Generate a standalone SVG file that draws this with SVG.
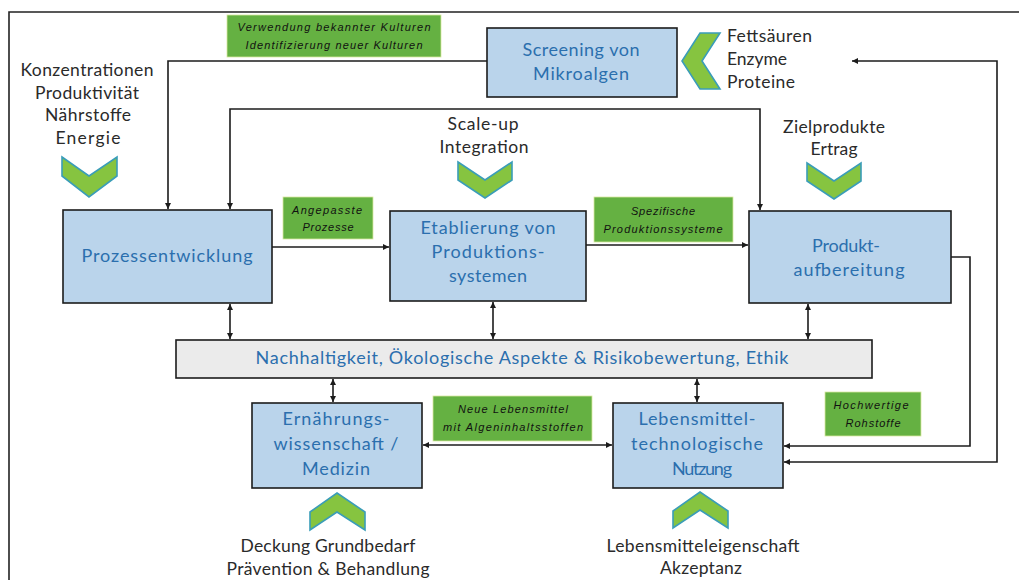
<svg xmlns="http://www.w3.org/2000/svg" width="1019" height="580" viewBox="0 0 1019 580">
<style>
.bg{fill:#ffffff}
.frame{fill:none;stroke:#222;stroke-width:1.6}
.box{fill:#bad4eb;stroke:#1c1c1c;stroke-width:1.6}
.bar{fill:#ebebeb;stroke:#1c1c1c;stroke-width:1.6}
.tag{fill:#65b142;stroke:#d9e8a0;stroke-width:0.8}
.chev{fill:#86c440;stroke:#3a9db8;stroke-width:1.6}
.conn{fill:none;stroke:#1c1c1c;stroke-width:1.6}
.bt{font-family:Lato,"Open Sans","Liberation Sans",sans-serif;font-size:18px;fill:#2b6fae;text-anchor:middle}
.lt{font-family:Lato,"Open Sans","Liberation Sans",sans-serif;font-size:17.5px;fill:#2a2a2a;text-anchor:middle}
.tt{font-family:"Liberation Sans",Arial,sans-serif;font-style:italic;font-size:11px;fill:#111;text-anchor:middle}
</style>
<defs>
<marker id="ah" viewBox="0 0 6 6" refX="6" refY="3" markerWidth="6" markerHeight="6" markerUnits="userSpaceOnUse" orient="auto-start-reverse">
<path d="M0,0 L6,3 L0,6 z" fill="#1c1c1c"/>
</marker>
</defs>
<rect class="bg" x="0" y="0" width="1019" height="580"/>
<path class="frame" d="M9,580 V12 H1019"/>

<g id="connectors">
<path class="conn" d="M487,61 H168 V209" marker-end="url(#ah)"/>
<path class="conn" d="M230,209 V109 H760 V210" marker-start="url(#ah)" marker-end="url(#ah)"/>
<path class="conn" d="M272,247 H389" marker-end="url(#ah)"/>
<path class="conn" d="M586,245 H748" marker-end="url(#ah)"/>
<path class="conn" d="M230,304 V339" marker-start="url(#ah)" marker-end="url(#ah)"/>
<path class="conn" d="M493,302 V339" marker-start="url(#ah)" marker-end="url(#ah)"/>
<path class="conn" d="M808,304 V339" marker-start="url(#ah)" marker-end="url(#ah)"/>
<path class="conn" d="M333,379 V402" marker-start="url(#ah)" marker-end="url(#ah)"/>
<path class="conn" d="M697,379 V402" marker-start="url(#ah)" marker-end="url(#ah)"/>
<path class="conn" d="M423,445 H612" marker-start="url(#ah)" marker-end="url(#ah)"/>
<path class="conn" d="M951,257 H970 V446 H784" marker-end="url(#ah)"/>
<path class="conn" d="M784,462 H997 V61 H852" marker-start="url(#ah)" marker-end="url(#ah)"/>
</g>

<g id="tag-screening">
<rect class="tag" x="227" y="15" width="214" height="42"/>
<text class="tt" x="334" y="31" textLength="193" lengthAdjust="spacing">Verwendung bekannter Kulturen</text>
<text class="tt" x="334" y="49" textLength="177" lengthAdjust="spacing">Identifizierung neuer Kulturen</text>
</g>

<g id="screening">
<rect class="box" x="487" y="28" width="190" height="69"/>
<text class="bt" x="581" y="56" textLength="117" lengthAdjust="spacing">Screening von</text>
<text class="bt" x="581" y="80" textLength="96" lengthAdjust="spacing">Mikroalgen</text>
</g>

<g id="chev-screening">
<path class="chev" d="M700,33 H720 L702,61 L720,89 H700 L682,61 z"/>
<text class="lt" style="text-anchor:start" x="727" y="42" textLength="85" lengthAdjust="spacing">Fettsäuren</text>
<text class="lt" style="text-anchor:start" x="727" y="65" textLength="60" lengthAdjust="spacing">Enzyme</text>
<text class="lt" style="text-anchor:start" x="727" y="88" textLength="68" lengthAdjust="spacing">Proteine</text>
</g>

<g id="input-left">
<text class="lt" x="87" y="76" textLength="133" lengthAdjust="spacing">Konzentrationen</text>
<text class="lt" x="87" y="99" textLength="104" lengthAdjust="spacing">Produktivität</text>
<text class="lt" x="88" y="121" textLength="86" lengthAdjust="spacing">Nährstoffe</text>
<text class="lt" x="88" y="144" textLength="65" lengthAdjust="spacing">Energie</text>
<path class="chev" d="M62,157 L89,176 L117,157 V176 L89,197 L62,176 z"/>
</g>

<g id="input-scaleup">
<text class="lt" x="483" y="130" textLength="71" lengthAdjust="spacing">Scale-up</text>
<text class="lt" x="484" y="153" textLength="89" lengthAdjust="spacing">Integration</text>
<path class="chev" d="M458,162 L485,180 L512,162 V180 L485,198 L458,180 z"/>
</g>

<g id="input-ziel">
<text class="lt" x="834" y="133" textLength="102" lengthAdjust="spacing">Zielprodukte</text>
<text class="lt" x="834" y="155" textLength="47" lengthAdjust="spacing">Ertrag</text>
<path class="chev" d="M807,163 L834,181 L861,163 V181 L834,199 L807,181 z"/>
</g>

<g id="prozess">
<rect class="box" x="63" y="210" width="209" height="93"/>
<text class="bt" x="167" y="262" textLength="171" lengthAdjust="spacing">Prozessentwicklung</text>
</g>

<g id="tag-angepasst">
<rect class="tag" x="283" y="197" width="90" height="42"/>
<text class="tt" x="327" y="214" textLength="70" lengthAdjust="spacing">Angepasste</text>
<text class="tt" x="328" y="231" textLength="51" lengthAdjust="spacing">Prozesse</text>
</g>

<g id="etablierung">
<rect class="box" x="390" y="211" width="196" height="90"/>
<text class="bt" x="488" y="234" textLength="135" lengthAdjust="spacing">Etablierung von</text>
<text class="bt" x="488" y="258" textLength="113" lengthAdjust="spacing">Produktions-</text>
<text class="bt" x="488" y="282" textLength="78" lengthAdjust="spacing">systemen</text>
</g>

<g id="tag-spezifisch">
<rect class="tag" x="594" y="197" width="139" height="45"/>
<text class="tt" x="663" y="215" textLength="64" lengthAdjust="spacing">Spezifische</text>
<text class="tt" x="663" y="233" textLength="119" lengthAdjust="spacing">Produktionssysteme</text>
</g>

<g id="produkt">
<rect class="box" x="749" y="211" width="202" height="92"/>
<text class="bt" x="846" y="252" textLength="68" lengthAdjust="spacing">Produkt-</text>
<text class="bt" x="849" y="276" textLength="111" lengthAdjust="spacing">aufbereitung</text>
</g>

<g id="nachhaltigkeit">
<rect class="bar" x="176" y="340" width="696" height="38"/>
<text class="bt" x="522" y="364" textLength="533" lengthAdjust="spacing">Nachhaltigkeit, Ökologische Aspekte &amp; Risikobewertung, Ethik</text>
</g>

<g id="ernaehrung">
<rect class="box" x="252" y="403" width="170" height="85"/>
<text class="bt" x="336" y="425" textLength="107" lengthAdjust="spacing">Ernährungs-</text>
<text class="bt" x="336" y="450" textLength="125" lengthAdjust="spacing">wissenschaft /</text>
<text class="bt" x="336" y="475" textLength="68" lengthAdjust="spacing">Medizin</text>
</g>

<g id="tag-neue">
<rect class="tag" x="433" y="396" width="159" height="45"/>
<text class="tt" x="513" y="413" textLength="110" lengthAdjust="spacing">Neue Lebensmittel</text>
<text class="tt" x="513" y="431" textLength="140" lengthAdjust="spacing">mit Algeninhaltsstoffen</text>
</g>

<g id="lebensmittel">
<rect class="box" x="613" y="403" width="170" height="85"/>
<text class="bt" x="697" y="425" textLength="117" lengthAdjust="spacing">Lebensmittel-</text>
<text class="bt" x="697" y="450" textLength="132" lengthAdjust="spacing">technologische</text>
<text class="bt" x="702" y="475" textLength="60" lengthAdjust="spacing">Nutzung</text>
</g>

<g id="tag-hochwertig">
<rect class="tag" x="825" y="392" width="96" height="44"/>
<text class="tt" x="871" y="409" textLength="75" lengthAdjust="spacing">Hochwertige</text>
<text class="tt" x="873" y="427" textLength="55" lengthAdjust="spacing">Rohstoffe</text>
</g>

<g id="input-ernaehrung">
<path class="chev" d="M337,493 L365,512 V530 L337,512 L310,530 V512 z"/>
<text class="lt" x="328" y="552" textLength="175" lengthAdjust="spacing">Deckung Grundbedarf</text>
<text class="lt" x="328" y="575" textLength="203" lengthAdjust="spacing">Prävention &amp; Behandlung</text>
</g>

<g id="input-lebensmittel">
<path class="chev" d="M700,492 L728,511 V528 L700,510 L673,528 V511 z"/>
<text class="lt" x="703" y="552" textLength="193" lengthAdjust="spacing">Lebensmitteleigenschaft</text>
<text class="lt" x="701" y="574" textLength="82" lengthAdjust="spacing">Akzeptanz</text>
</g>
</svg>
